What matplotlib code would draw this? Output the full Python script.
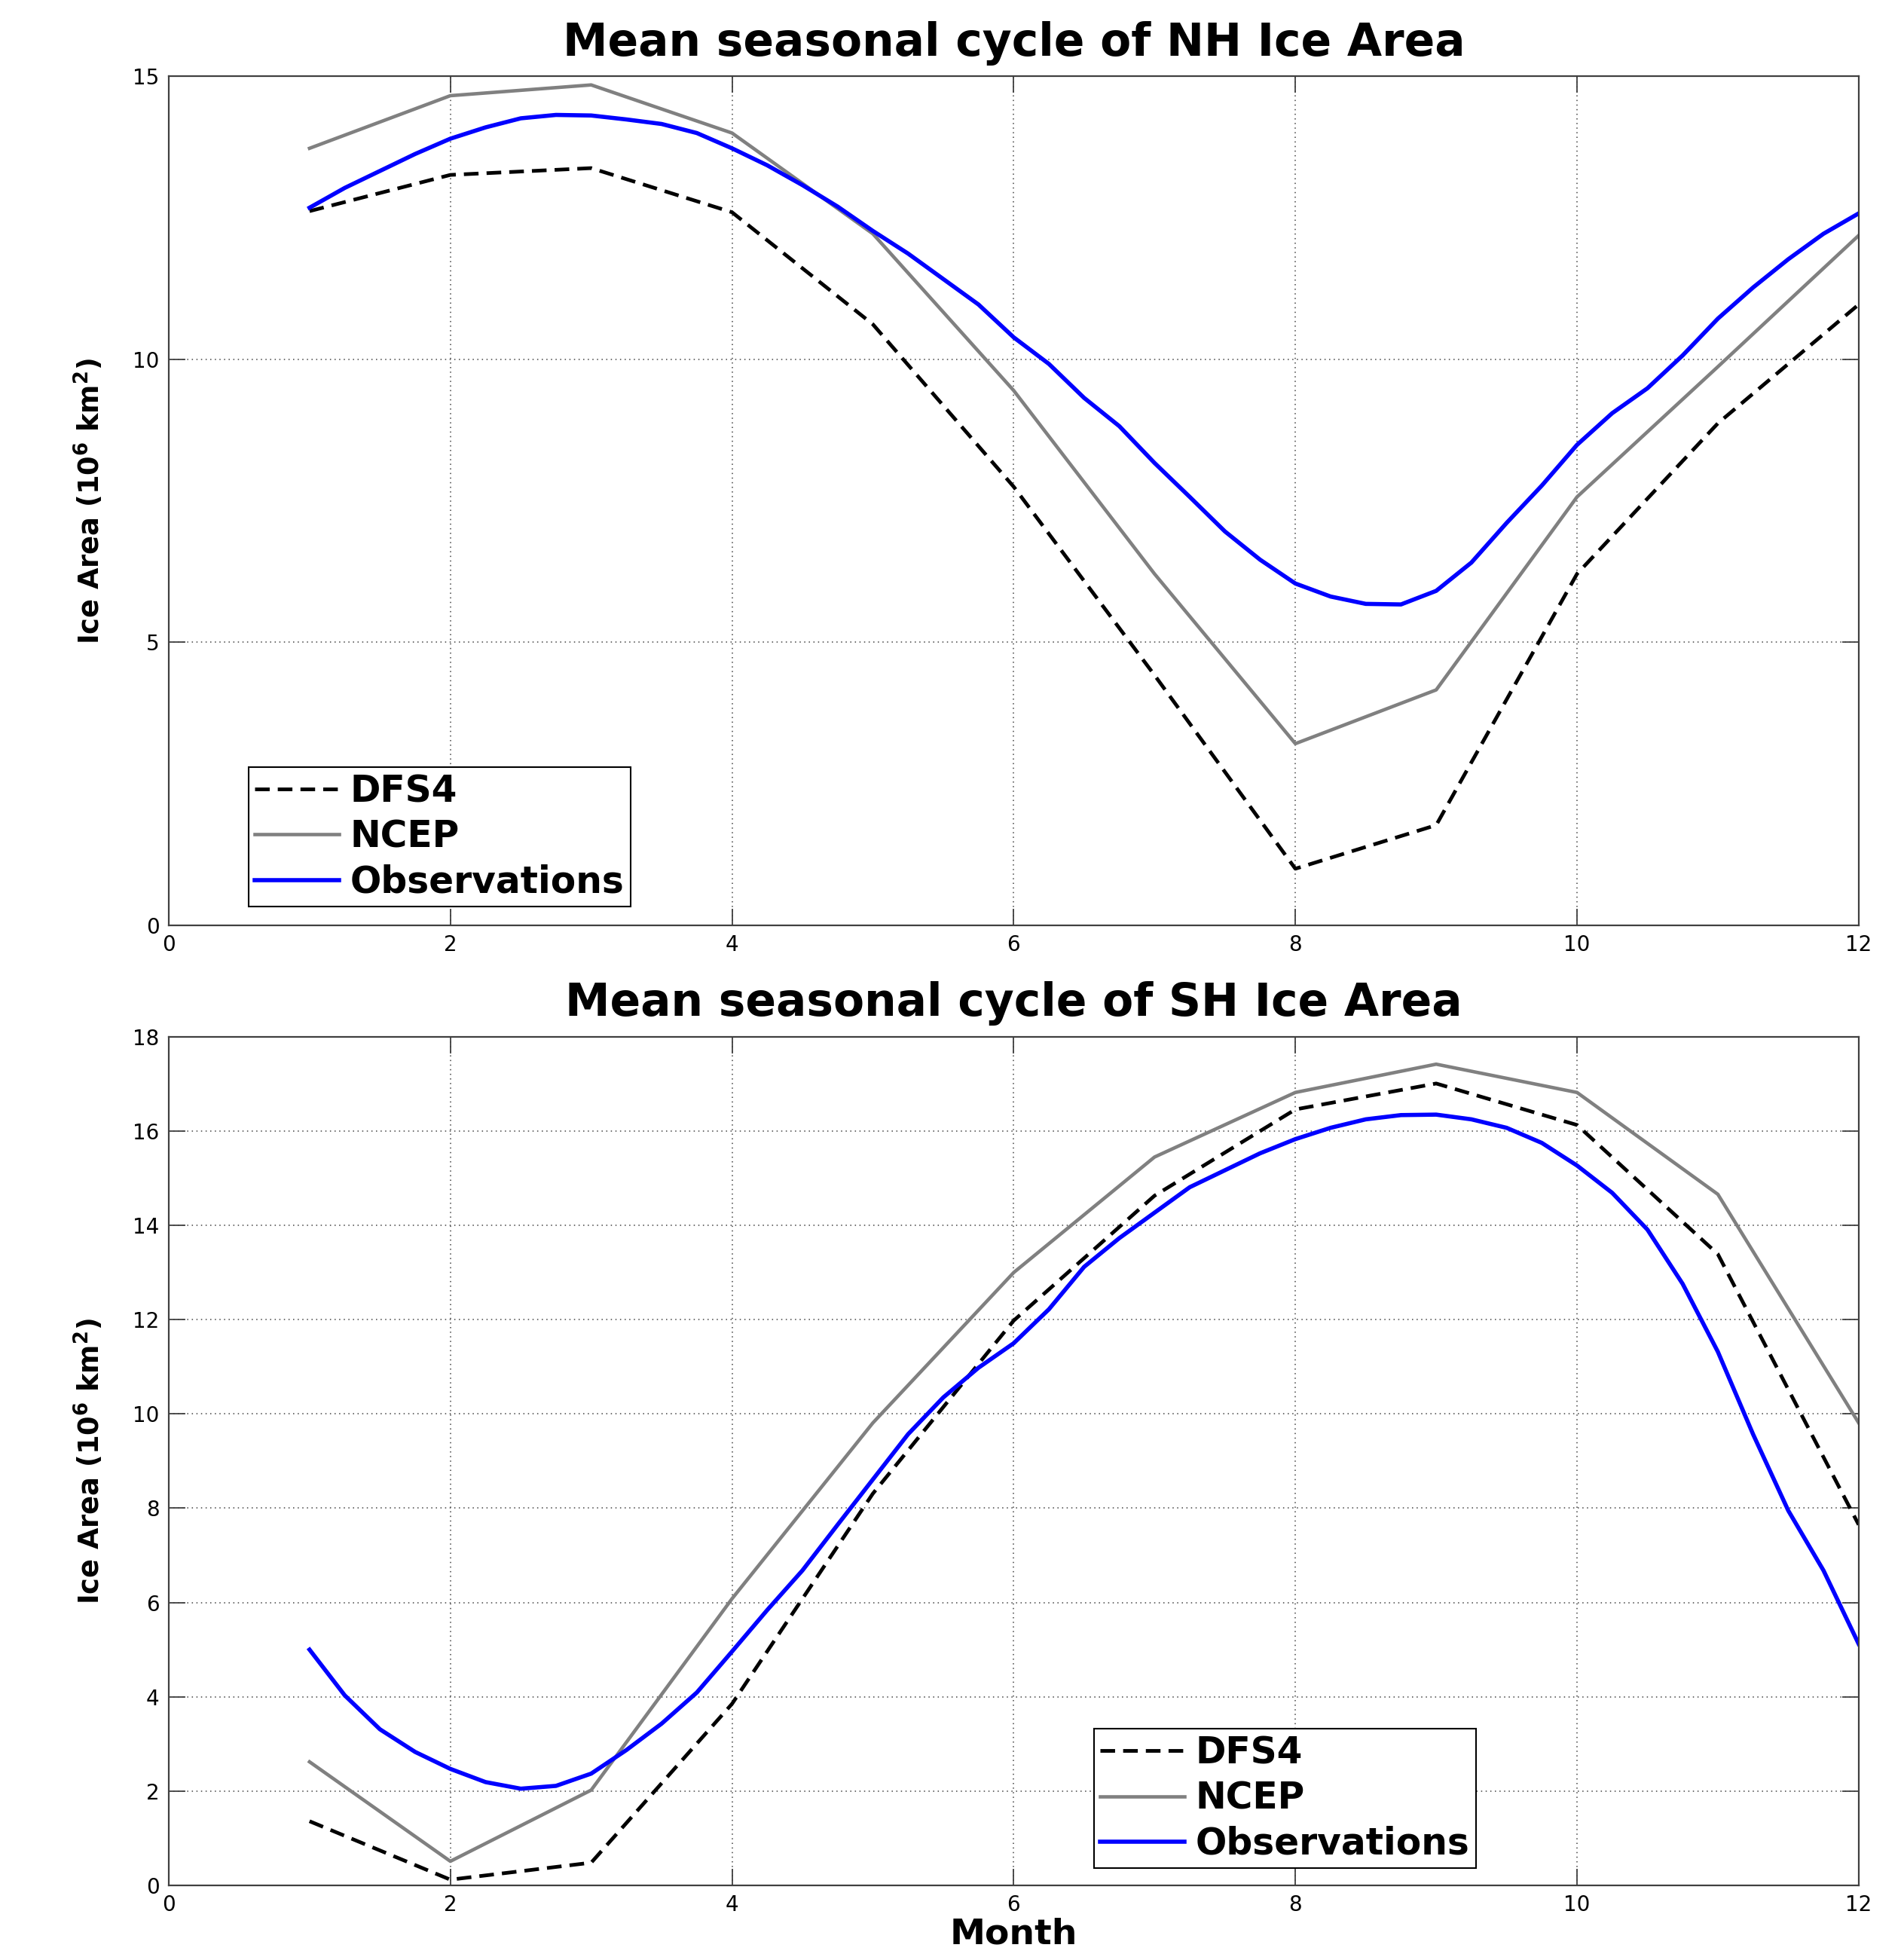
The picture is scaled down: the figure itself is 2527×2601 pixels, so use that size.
import matplotlib
matplotlib.use("Agg")
import matplotlib.pyplot as plt

plt.rcParams['font.family'] = ['DejaVu Sans']
plt.rcParams['mathtext.fontset'] = 'dejavusans'

# ---------------- data ----------------
months = [1, 2, 3, 4, 5, 6, 7, 8, 9, 10, 11, 12]

nh_dfs4 = [12.62, 13.26, 13.38, 12.60, 10.62, 7.75, 4.42, 1.00, 1.77, 6.21, 8.87, 10.97]
nh_ncep = [13.73, 14.66, 14.85, 14.00, 12.22, 9.45, 6.21, 3.21, 4.16, 7.57, 9.87, 12.19]

obs_t = [1.0, 1.25, 1.5, 1.75, 2.0, 2.25, 2.5, 2.75, 3.0, 3.25, 3.5, 3.75,
         4.0, 4.25, 4.5, 4.75, 5.0, 5.25, 5.5, 5.75, 6.0, 6.25, 6.5, 6.75,
         7.0, 7.25, 7.5, 7.75, 8.0, 8.25, 8.5, 8.75, 9.0, 9.25, 9.5, 9.75,
         10.0, 10.25, 10.5, 10.75, 11.0, 11.25, 11.5, 11.75, 12.0]

nh_obs = [12.68, 13.03, 13.33, 13.63, 13.90, 14.10, 14.26, 14.32, 14.31, 14.24,
          14.16, 14.00, 13.73, 13.43, 13.08, 12.70, 12.27, 11.87, 11.42, 10.97,
          10.39, 9.92, 9.32, 8.82, 8.17, 7.57, 6.96, 6.46, 6.04, 5.81,
          5.68, 5.67, 5.91, 6.41, 7.11, 7.77, 8.49, 9.05, 9.49, 10.07,
          10.72, 11.27, 11.77, 12.22, 12.58]

sh_dfs4 = [1.36, 0.12, 0.48, 3.85, 8.31, 11.98, 14.63, 16.46, 17.01, 16.13, 13.39, 7.65]
sh_ncep = [2.62, 0.51, 2.02, 6.08, 9.81, 13.00, 15.45, 16.82, 17.42, 16.82, 14.66, 9.81]

sh_obs = [5.00, 4.03, 3.31, 2.83, 2.47, 2.19, 2.05, 2.11, 2.37, 2.87,
          3.43, 4.09, 4.96, 5.84, 6.68, 7.65, 8.61, 9.57, 10.35, 10.98,
          11.50, 12.22, 13.12, 13.73, 14.27, 14.81, 15.17, 15.53, 15.83, 16.07,
          16.25, 16.34, 16.35, 16.25, 16.07, 15.75, 15.27, 14.69, 13.91, 12.76,
          11.32, 9.57, 7.95, 6.68, 5.12]

labels = ['DFS4', 'NCEP', 'Observations']
titles = ['Mean seasonal cycle of NH Ice Area', 'Mean seasonal cycle of SH Ice Area']
ylabel = r'Ice Area (10$^{\mathbf{6}}$ km$^{\mathbf{2}}$)'
xlabel = 'Month'
xticks = [0, 2, 4, 6, 8, 10, 12]
yticks_nh = [0, 5, 10, 15]
yticks_sh = [0, 2, 4, 6, 8, 10, 12, 14, 16, 18]

# ---------------- figure ----------------
fig = plt.figure(figsize=(25.27, 26.01), dpi=100)
ax1 = fig.add_axes([0.0886, 0.5279, 0.8876, 0.4331])
ax2 = fig.add_axes([0.0886, 0.0381, 0.8876, 0.4329])


def style(ax, yticks, ylim, title):
    l1, = ax.plot([], [], color='black', lw=3.5, dashes=(4.0, 2.2))
    l2, = ax.plot([], [], color='#808080', lw=3.3)
    l3, = ax.plot([], [], color='#0000ff', lw=4.0)
    ax.set_xlim(0, 12)
    ax.set_ylim(*ylim)
    ax.set_xticks(xticks)
    ax.set_yticks(yticks)
    ax.grid(True, color='#444444', linestyle=(0, (1, 3)), linewidth=1.1)
    ax.tick_params(direction='in', top=True, right=True, length=16, width=1.3,
                   colors='#404040', labelcolor='black', labelsize=20, pad=9)
    for s in ax.spines.values():
        s.set_color('#404040')
        s.set_linewidth(1.6)
    ax.set_title(title, fontsize=43, fontweight='bold', pad=20)
    ax.set_ylabel(ylabel, fontsize=26.5, fontweight='bold')
    ax.yaxis.set_label_coords(-0.037, 0.5)
    return [l1, l2, l3]


h1 = style(ax1, yticks_nh, (0, 15), titles[0])
h1[0].set_data(months, nh_dfs4)
h1[1].set_data(months, nh_ncep)
h1[2].set_data(obs_t, nh_obs)

h2 = style(ax2, yticks_sh, (0, 18), titles[1])
h2[0].set_data(months, sh_dfs4)
h2[1].set_data(months, sh_ncep)
h2[2].set_data(obs_t, sh_obs)

ax2.set_xlabel(xlabel, fontsize=34, fontweight='bold')
ax2.xaxis.set_label_coords(0.5, -0.038)

for ax, h, anchor in [(ax1, h1, (0.0473, 0.0222)), (ax2, h2, (0.5475, 0.0204))]:
    leg = ax.legend(h, labels, loc='lower left', bbox_to_anchor=anchor,
                    borderaxespad=0, prop={'weight': 'bold', 'size': 35},
                    frameon=True, fancybox=False, framealpha=1,
                    edgecolor='black', handlelength=2.3, handletextpad=0.3,
                    labelspacing=0.25, borderpad=0.17)
    leg.get_frame().set_linewidth(1.5)

fig.savefig('out.png', dpi=100)
